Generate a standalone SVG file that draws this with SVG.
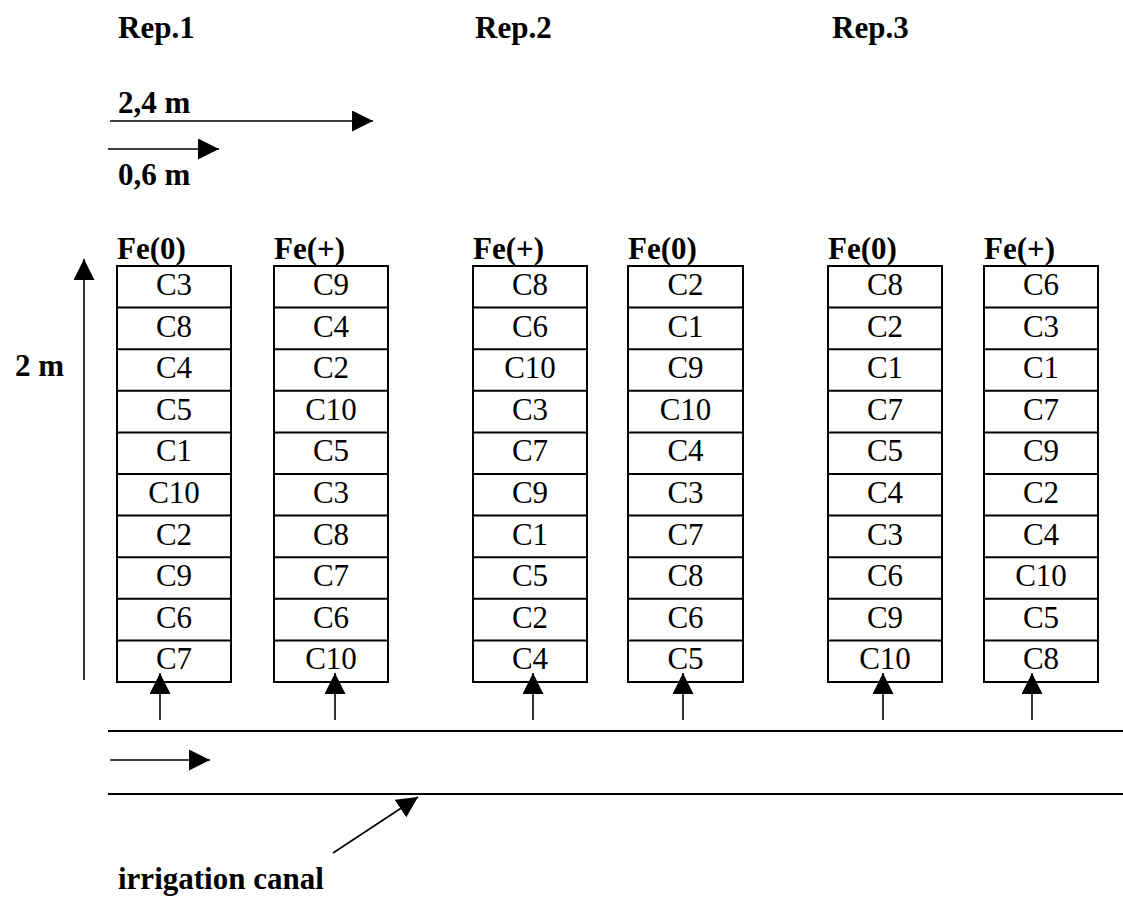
<svg xmlns="http://www.w3.org/2000/svg" width="1123" height="902" viewBox="0 0 1123 902">
<style>
.box{fill:#fff;stroke:#000;stroke-width:2}
.ln{stroke:#000;stroke-width:2;fill:none}
.ar{stroke:#000;stroke-width:1.6;fill:none;marker-end:url(#ah)}
</style>
<defs>
<marker id="ah" markerUnits="userSpaceOnUse" markerWidth="21" markerHeight="21" refX="20" refY="10" orient="auto" viewBox="0 0 20 20">
<path d="M0,0 L20,10 L0,20 z" fill="#000"/>
</marker>
</defs>
<rect width="1123" height="902" fill="#fff"/>
<g id="headers" font-family="Liberation Serif" font-size="31" font-weight="bold">
<text x="118" y="38">Rep.1</text>
<text x="475" y="38">Rep.2</text>
<text x="832" y="38">Rep.3</text>
<text x="118" y="113">2,4 m</text>
<text x="118" y="185">0,6 m</text>
<text x="15" y="376">2 m</text>
<text x="118" y="889">irrigation canal</text>
</g>
<g id="col1">
<text x="117" y="259" font-family="Liberation Serif" font-size="31" font-weight="bold">Fe(0)</text>
<rect class="box" x="117" y="266" width="114" height="416"/>
<path class="ln" d="M117,307.6H231M117,349.2H231M117,390.8H231M117,432.4H231M117,474H231M117,515.6H231M117,557.2H231M117,598.8H231M117,640.4H231"/>
<g font-family="Liberation Serif" font-size="31" text-anchor="middle">
<text x="174" y="295">C3</text>
<text x="174" y="336.6">C8</text>
<text x="174" y="378.2">C4</text>
<text x="174" y="419.8">C5</text>
<text x="174" y="461.4">C1</text>
<text x="174" y="503">C10</text>
<text x="174" y="544.6">C2</text>
<text x="174" y="586.2">C9</text>
<text x="174" y="627.8">C6</text>
<text x="174" y="669.4">C7</text>
</g>
</g>
<g id="col2">
<text x="274" y="259" font-family="Liberation Serif" font-size="31" font-weight="bold">Fe(+)</text>
<rect class="box" x="274" y="266" width="114" height="416"/>
<path class="ln" d="M274,307.6H388M274,349.2H388M274,390.8H388M274,432.4H388M274,474H388M274,515.6H388M274,557.2H388M274,598.8H388M274,640.4H388"/>
<g font-family="Liberation Serif" font-size="31" text-anchor="middle">
<text x="331" y="295">C9</text>
<text x="331" y="336.6">C4</text>
<text x="331" y="378.2">C2</text>
<text x="331" y="419.8">C10</text>
<text x="331" y="461.4">C5</text>
<text x="331" y="503">C3</text>
<text x="331" y="544.6">C8</text>
<text x="331" y="586.2">C7</text>
<text x="331" y="627.8">C6</text>
<text x="331" y="669.4">C10</text>
</g>
</g>
<g id="col3">
<text x="473" y="259" font-family="Liberation Serif" font-size="31" font-weight="bold">Fe(+)</text>
<rect class="box" x="473" y="266" width="114" height="416"/>
<path class="ln" d="M473,307.6H587M473,349.2H587M473,390.8H587M473,432.4H587M473,474H587M473,515.6H587M473,557.2H587M473,598.8H587M473,640.4H587"/>
<g font-family="Liberation Serif" font-size="31" text-anchor="middle">
<text x="530" y="295">C8</text>
<text x="530" y="336.6">C6</text>
<text x="530" y="378.2">C10</text>
<text x="530" y="419.8">C3</text>
<text x="530" y="461.4">C7</text>
<text x="530" y="503">C9</text>
<text x="530" y="544.6">C1</text>
<text x="530" y="586.2">C5</text>
<text x="530" y="627.8">C2</text>
<text x="530" y="669.4">C4</text>
</g>
</g>
<g id="col4">
<text x="628" y="259" font-family="Liberation Serif" font-size="31" font-weight="bold">Fe(0)</text>
<rect class="box" x="628" y="266" width="115" height="416"/>
<path class="ln" d="M628,307.6H743M628,349.2H743M628,390.8H743M628,432.4H743M628,474H743M628,515.6H743M628,557.2H743M628,598.8H743M628,640.4H743"/>
<g font-family="Liberation Serif" font-size="31" text-anchor="middle">
<text x="685.5" y="295">C2</text>
<text x="685.5" y="336.6">C1</text>
<text x="685.5" y="378.2">C9</text>
<text x="685.5" y="419.8">C10</text>
<text x="685.5" y="461.4">C4</text>
<text x="685.5" y="503">C3</text>
<text x="685.5" y="544.6">C7</text>
<text x="685.5" y="586.2">C8</text>
<text x="685.5" y="627.8">C6</text>
<text x="685.5" y="669.4">C5</text>
</g>
</g>
<g id="col5">
<text x="828" y="259" font-family="Liberation Serif" font-size="31" font-weight="bold">Fe(0)</text>
<rect class="box" x="828" y="266" width="114" height="416"/>
<path class="ln" d="M828,307.6H942M828,349.2H942M828,390.8H942M828,432.4H942M828,474H942M828,515.6H942M828,557.2H942M828,598.8H942M828,640.4H942"/>
<g font-family="Liberation Serif" font-size="31" text-anchor="middle">
<text x="885" y="295">C8</text>
<text x="885" y="336.6">C2</text>
<text x="885" y="378.2">C1</text>
<text x="885" y="419.8">C7</text>
<text x="885" y="461.4">C5</text>
<text x="885" y="503">C4</text>
<text x="885" y="544.6">C3</text>
<text x="885" y="586.2">C6</text>
<text x="885" y="627.8">C9</text>
<text x="885" y="669.4">C10</text>
</g>
</g>
<g id="col6">
<text x="984" y="259" font-family="Liberation Serif" font-size="31" font-weight="bold">Fe(+)</text>
<rect class="box" x="984" y="266" width="114" height="416"/>
<path class="ln" d="M984,307.6H1098M984,349.2H1098M984,390.8H1098M984,432.4H1098M984,474H1098M984,515.6H1098M984,557.2H1098M984,598.8H1098M984,640.4H1098"/>
<g font-family="Liberation Serif" font-size="31" text-anchor="middle">
<text x="1041" y="295">C6</text>
<text x="1041" y="336.6">C3</text>
<text x="1041" y="378.2">C1</text>
<text x="1041" y="419.8">C7</text>
<text x="1041" y="461.4">C9</text>
<text x="1041" y="503">C2</text>
<text x="1041" y="544.6">C4</text>
<text x="1041" y="586.2">C10</text>
<text x="1041" y="627.8">C5</text>
<text x="1041" y="669.4">C8</text>
</g>
</g>
<g id="connectors">
<line class="ar" x1="110" y1="121" x2="373" y2="121"/>
<line class="ar" x1="108" y1="149" x2="219" y2="149"/>
<line class="ar" x1="84" y1="680" x2="84" y2="259"/>
<line class="ar" x1="160" y1="720" x2="160" y2="673"/>
<line class="ar" x1="335" y1="720" x2="335" y2="673"/>
<line class="ar" x1="533" y1="720" x2="533" y2="673"/>
<line class="ar" x1="683" y1="720" x2="683" y2="673"/>
<line class="ar" x1="883" y1="720" x2="883" y2="673"/>
<line class="ar" x1="1032" y1="720" x2="1032" y2="673"/>
<line class="ln" x1="108" y1="731" x2="1123" y2="731"/>
<line class="ln" x1="108" y1="794" x2="1123" y2="794"/>
<line class="ar" x1="110" y1="760" x2="210" y2="760"/>
<line class="ar" x1="333" y1="853" x2="418" y2="797"/>
</g>
</svg>
